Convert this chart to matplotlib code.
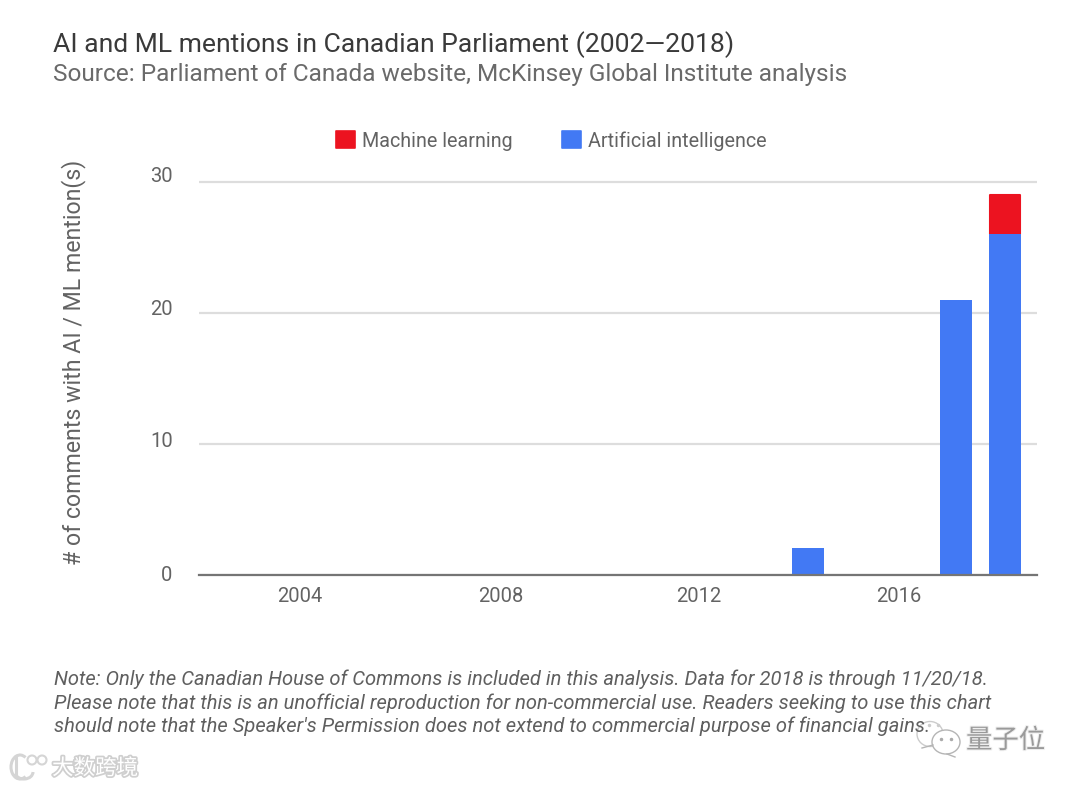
import matplotlib
matplotlib.use("Agg")
import matplotlib.pyplot as plt
import matplotlib.patheffects as pe
from matplotlib.patches import Arc, Ellipse

plt.rcParams['font.family'] = ['Roboto', 'Noto Sans CJK SC', 'DejaVu Sans']

# data
years = [2014, 2017, 2018]
ai_mentions = [2, 21, 26]
ml_mentions = [0, 0, 3]
y_ticks = [0, 10, 20, 30]
x_tick_labels = ["2004", "2008", "2012", "2016"]

title = "AI and ML mentions in Canadian Parliament (2002\u20142018)"
subtitle = "Source: Parliament of Canada website, McKinsey Global Institute analysis"
note_lines = [
    "Note: Only the Canadian House of Commons is included in this analysis. Data for 2018 is through 11/20/18.",
    "Please note that this is an unofficial reproduction for non-commercial use. Readers seeking to use this chart",
    "should note that the Speaker's Permission does not extend to commercial purpose of financial gains.",
]

W, H = 1080, 788
BLUE = "#4279f4"
RED = "#ec1320"
GREY = "#636363"

fig = plt.figure(figsize=(W / 100, H / 100), dpi=100, facecolor="white")


def px(x, y):
    # pixel position measured from the top left -> figure fraction
    return x / W, 1 - y / H


# axes run a bit above 30 so that the shifted "30" label is not dropped
left, right, top, bottom = 199, 1037, 169, 574.5
ax = fig.add_axes([left / W, 1 - bottom / H, (right - left) / W, (bottom - top) / H])

ax.bar(years, ai_mentions, width=0.65, color=BLUE, label="Artificial intelligence", zorder=3)
red_bars = ax.bar(years[-1:], ml_mentions[-1:], bottom=ai_mentions[-1:], width=0.62, color=RED,
                  edgecolor=RED, linewidth=1.5, label="Machine learning", zorder=2.5)
for bar in red_bars:
    bar.set_joinstyle('round')

# the labels sit a little off the real year / grid line in the original
ax.set_xticks([2003.68, 2007.75, 2011.79, 2015.85])
ax.set_xticklabels(x_tick_labels)
ax.set_yticks(y_ticks)
ax.set_yticklabels([])
ax.set_yticks([0.1, 10.3, 20.45, 30.6], [str(v) for v in y_ticks], minor=True)

# limits last, set_yticks widens them otherwise
ax.set_xlim(2001.63, 2018.65)
ax.set_ylim(0, 31)

ax.tick_params(axis='x', length=0, pad=9, labelsize=14.5, labelcolor=GREY)
ax.tick_params(axis='y', which='both', length=0, pad=19, labelsize=14.5, labelcolor=GREY)
ax.grid(axis='y', which='major', color="#dddddd", linewidth=1.6, zorder=0)
ax.grid(axis='x', visible=False)
for side in ['top', 'right', 'left']:
    ax.spines[side].set_visible(False)
ax.spines['bottom'].set_color("#757575")
ax.spines['bottom'].set_linewidth(1.6)
ax.spines['bottom'].set_zorder(4)

handles, labels = ax.get_legend_handles_labels()
leg = fig.legend(handles[::-1], labels[::-1], ncol=2, frameon=False, fontsize=14.25,
                 loc='center', bbox_to_anchor=px(551.5, 141), handlelength=0.95, handleheight=0.95,
                 handletextpad=0.35, columnspacing=2.5, labelcolor=GREY)
for h, c in zip(leg.legend_handles, [RED, BLUE]):
    h.set_edgecolor(c)
    h.set_linewidth(1.2)
    h.set_joinstyle('round')

x, y = px(53, 45)
fig.text(x, y, title, fontsize=19.05, color="#3a3a3a", va='center', ha='left')
x, y = px(53, 75)
fig.text(x, y, subtitle, fontsize=17.55, color="#6a6a6a", va='center', ha='left')
x, y = px(74, 362.5)
fig.text(x, y, "# of comments with AI / ML mention(s)", fontsize=16.7, color=GREY,
         rotation=90, va='center', ha='center')

for line, yy in zip(note_lines, [679, 703, 726]):
    x, y = px(54, yy)
    fig.text(x, y, line, fontsize=14.47, style='italic', color="#5f5f5f", va='center', ha='left')

# watermarks
x, y = px(966, 741)
fig.text(x, y, "\u91cf\u5b50\u4f4d", fontsize=19, color="#9a9a9a", va='center', ha='left',
         path_effects=[pe.withStroke(linewidth=1.5, foreground="#eeeeee")])
x, y = px(52, 769)
fig.text(x, y, "\u5927\u6570\u8de8\u5883", fontsize=15.5, color="white", va='center', ha='left',
         path_effects=[pe.withStroke(linewidth=2.5, foreground="#cfcfcf")])

# logos drawn by hand on a pixel-sized overlay
overlay = fig.add_axes([0, 0, 1, 1], facecolor='none')
overlay.set_xlim(0, W)
overlay.set_ylim(H, 0)
overlay.axis('off')
overlay.add_patch(Ellipse((930, 734), 26, 25, fill=False, edgecolor="#cccccc", linewidth=1))
overlay.add_patch(Ellipse((946, 742), 28, 24, facecolor="white", edgecolor="#b5b5b5", linewidth=1))
overlay.plot([922, 933], [748, 745], color="#b5b5b5", linewidth=1)
overlay.plot([947, 955], [754, 757], color="#b5b5b5", linewidth=1)
overlay.plot([941, 951], [739, 739], ls='none', marker='o', ms=1.5, color="#aaaaaa")
overlay.plot([929, 938], [725, 725], ls='none', marker='o', ms=1.5, color="#cccccc")

logo = "#d5d5d5"
overlay.add_patch(Arc((20, 767), 18, 24, theta1=60, theta2=300, edgecolor=logo, linewidth=2.2))
overlay.plot([16, 16], [757, 777], color=logo, linewidth=2.2)
overlay.add_patch(Arc((24, 772), 18, 14, theta1=0, theta2=170, edgecolor=logo, linewidth=2.2))
overlay.add_patch(Ellipse((32, 760), 9, 9, fill=False, edgecolor=logo, linewidth=1.5))
overlay.add_patch(Ellipse((42, 760), 9, 9, fill=False, edgecolor=logo, linewidth=1.5))

fig.savefig("out.png", dpi=100)
